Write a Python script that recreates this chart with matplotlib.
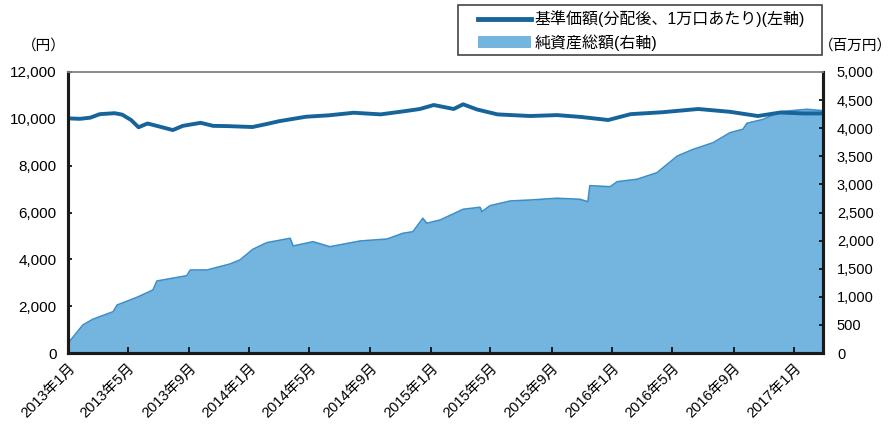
import pandas as pd
import matplotlib
matplotlib.use("Agg")
import matplotlib.pyplot as plt
from matplotlib.lines import Line2D
from matplotlib.patches import Patch, Rectangle

plt.rcParams['font.family'] = ['Liberation Sans', 'Noto Sans CJK JP', 'DejaVu Sans']

# 基準価額 (left axis, 円)
nav_dates = ['2013-01-01', '2013-01-25', '2013-02-15', '2013-03-06', '2013-04-05', '2013-04-20',
             '2013-05-08', '2013-05-23', '2013-06-10', '2013-06-25', '2013-07-31', '2013-08-20',
             '2013-09-25', '2013-10-20', '2013-11-18', '2014-01-07', '2014-02-05', '2014-03-02',
             '2014-04-25', '2014-06-10', '2014-07-30', '2014-09-22', '2014-11-14', '2014-12-10',
             '2015-01-07', '2015-02-16', '2015-03-07', '2015-04-04', '2015-05-15', '2015-07-20',
             '2015-09-12', '2015-10-30', '2015-12-24', '2016-02-07', '2016-04-10', '2016-06-22',
             '2016-08-25', '2016-10-20', '2016-12-04', '2017-01-20', '2017-02-28']
nav_values = [10020, 10000, 10050, 10200, 10240, 10180,
              9950, 9640, 9800, 9720, 9520, 9700,
              9830, 9700, 9690, 9650, 9780, 9900,
              10090, 10150, 10260, 10190, 10340, 10420,
              10590, 10420, 10620, 10400, 10190, 10120,
              10160, 10080, 9950, 10200, 10280, 10420,
              10300, 10120, 10270, 10230, 10230]

# 純資産総額 (right axis, 百万円)
asset_dates = ['2013-01-01', '2013-01-31', '2013-02-20', '2013-04-02', '2013-04-10', '2013-05-20',
               '2013-06-21', '2013-06-29', '2013-08-28', '2013-09-04', '2013-10-08', '2013-11-23',
               '2013-12-13', '2014-01-08', '2014-02-05', '2014-03-24', '2014-03-30', '2014-05-09',
               '2014-06-12', '2014-08-12', '2014-10-05', '2014-11-06', '2014-11-26', '2014-12-16',
               '2014-12-24', '2015-01-20', '2015-03-07', '2015-04-10', '2015-04-14', '2015-04-30',
               '2015-06-10', '2015-07-20', '2015-09-12', '2015-10-28', '2015-11-13', '2015-11-17',
               '2015-12-28', '2016-01-11', '2016-02-20', '2016-03-31', '2016-05-11', '2016-06-12',
               '2016-07-22', '2016-08-25', '2016-09-20', '2016-09-28', '2016-10-31', '2016-12-04',
               '2017-01-27', '2017-02-28']
asset_values = [170, 498, 600, 735, 854, 991,
                1121, 1281, 1375, 1477, 1477, 1584,
                1655, 1845, 1963, 2041, 1904, 1980,
                1891, 1993, 2028, 2130, 2158, 2397,
                2308, 2367, 2557, 2593, 2515, 2621,
                2705, 2722, 2753, 2735, 2692, 2977,
                2959, 3048, 3091, 3208, 3505, 3624,
                3742, 3920, 3980, 4087, 4158, 4294,
                4336, 4311]

tick_dates = ['2013-01-01', '2013-05-01', '2013-09-01', '2014-01-01', '2014-05-01', '2014-09-01',
              '2015-01-01', '2015-05-01', '2015-09-01', '2016-01-01', '2016-05-01', '2016-09-01',
              '2017-01-01']
tick_labels = [f"{d[:4]}年{int(d[5:7])}月" for d in tick_dates]

nav_x = pd.to_datetime(nav_dates)
asset_x = pd.to_datetime(asset_dates)

fig = plt.figure(figsize=(8.93, 4.25), dpi=100)
ax = fig.add_axes([0.0761, 0.1694, 0.8455, 0.6612])
ax2 = ax.twinx()

# area on the right axis, line on the left axis drawn on top
ax2.fill_between(asset_x, 0, asset_values, color='#74b5e0', lw=0)
ax2.plot(asset_x, asset_values, color='#3d8fc8', lw=1.2)
ax2.set_facecolor('#fffbd7')
ax.set_zorder(ax2.get_zorder() + 1)
ax.patch.set_visible(False)
ax.plot(nav_x, nav_values, color='#17649a', lw=2.8, solid_capstyle='butt')

ax.set_xlim(pd.Timestamp('2013-01-01'), pd.Timestamp('2017-02-28'))
ax.set_ylim(0, 12000)
ax2.set_ylim(0, 5000)
ax.set_yticks(range(0, 12001, 2000))
ax.set_yticklabels([f"{v:,}" for v in range(0, 12001, 2000)], fontsize=11)
ax2.set_yticks(range(0, 5001, 500))
ax2.set_yticklabels([f"{v:,}" for v in range(0, 5001, 500)], fontsize=10.5)

ax.set_xticks(pd.to_datetime(tick_dates))
ax.set_xticklabels(tick_labels, rotation=45, ha='right', rotation_mode='anchor', fontsize=10.5)

for a in (ax, ax2):
    for s in ('left', 'right', 'bottom'):
        a.spines[s].set_linewidth(2.2)
        a.spines[s].set_color('#1a1a1a')
    a.spines['top'].set_linewidth(1.2)
    a.spines['top'].set_color('#8a8a8a')
ax.tick_params(axis='x', direction='in', length=4, width=1.2, pad=6)
ax.tick_params(axis='y', direction='in', length=3, width=1.2, pad=8)
ax2.tick_params(axis='y', direction='in', length=3, width=1.2, pad=10)

fig.text(0.025, 0.893, '（円）', fontsize=10.5, ha='left', va='center')
fig.text(0.999, 0.893, '（百万円）', fontsize=10.5, ha='right', va='center')

# legend box drawn separately so the padding matches the original
fig.patches.append(Rectangle((0.5129, 0.8706), 0.4076, 0.1176, transform=fig.transFigure,
                             facecolor='white', edgecolor='#444444', lw=1.2, zorder=3))
handles = [Line2D([0], [0], color='#17649a', lw=3.5),
           Patch(facecolor='#74b5e0', edgecolor='none')]
leg = fig.legend(handles, ['基準価額(分配後、1万口あたり)(左軸)', '純資産総額(右軸)'],
                 loc='upper left', bbox_to_anchor=(0.5353, 0.975), fontsize=11.5,
                 frameon=False, handlelength=3.3, handleheight=0.8,
                 borderpad=0, labelspacing=0.42, handletextpad=0.25,
                 borderaxespad=0)
leg.set_zorder(4)

fig.savefig('out.png', dpi=100)
